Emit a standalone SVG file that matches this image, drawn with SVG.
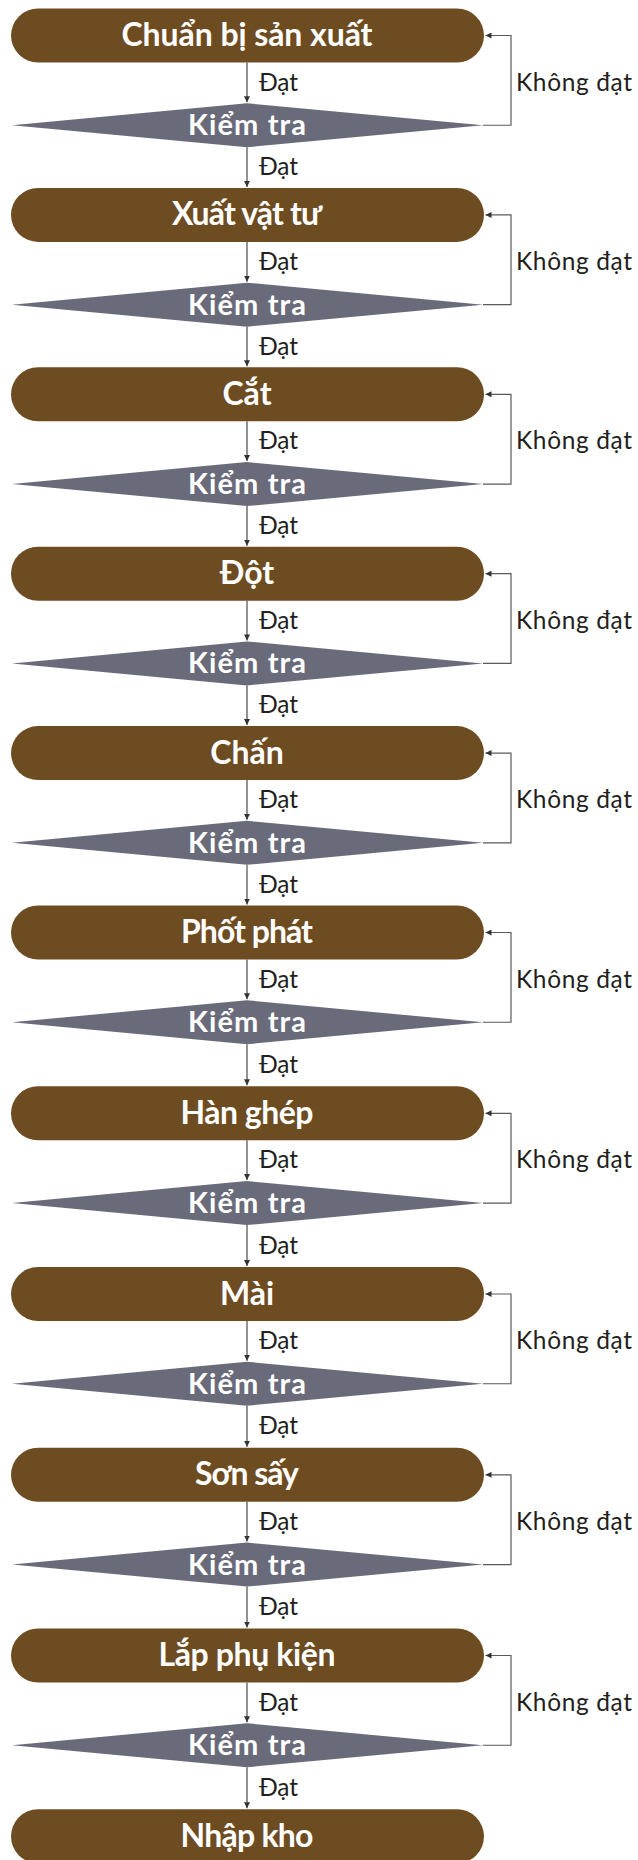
<svg xmlns="http://www.w3.org/2000/svg" width="638" height="1860" viewBox="0 0 638 1860">
<style>
.pill{fill:#6e4c22}
.dia{fill:#696b7b}
.nt{font-family:Lato,"Open Sans","Liberation Sans",sans-serif;font-weight:bold;font-size:32px;fill:#fff;text-anchor:middle}
.dt{font-family:Lato,"Open Sans","Liberation Sans",sans-serif;font-weight:bold;font-size:29px;fill:#fff;text-anchor:middle}
.lb{font-family:Lato,"Open Sans","Liberation Sans",sans-serif;font-size:24.5px;fill:#231f20}
.ln{fill:none;stroke:#4a4a4a;stroke-width:1.2}
.lp{fill:none;stroke:#5a5a5a;stroke-width:1.2}
</style>
<defs>
<marker id="ah" markerUnits="userSpaceOnUse" markerWidth="7" markerHeight="6" refX="6" refY="3" orient="auto">
<path d="M0,0 L6,3 L0,6 z" fill="#333"/>
</marker>
</defs>
<g id="connectors">
<path class="ln" d="M247,62.5 V102.25" marker-end="url(#ah)"/>
<path class="ln" d="M247,147.25 V186.9" marker-end="url(#ah)"/>
<path class="lp" d="M483,125.25 H511 V35.5 H485.5" marker-end="url(#ah)"/>
<path class="ln" d="M247,241.9 V281.65" marker-end="url(#ah)"/>
<path class="ln" d="M247,326.65 V366.3" marker-end="url(#ah)"/>
<path class="lp" d="M483,304.65 H511 V214.9 H485.5" marker-end="url(#ah)"/>
<path class="ln" d="M247,421.3 V461.05" marker-end="url(#ah)"/>
<path class="ln" d="M247,506.05 V545.7" marker-end="url(#ah)"/>
<path class="lp" d="M483,484.05 H511 V394.3 H485.5" marker-end="url(#ah)"/>
<path class="ln" d="M247,600.7 V640.45" marker-end="url(#ah)"/>
<path class="ln" d="M247,685.45 V725.1" marker-end="url(#ah)"/>
<path class="lp" d="M483,663.45 H511 V573.7 H485.5" marker-end="url(#ah)"/>
<path class="ln" d="M247,780.1 V819.85" marker-end="url(#ah)"/>
<path class="ln" d="M247,864.85 V904.5" marker-end="url(#ah)"/>
<path class="lp" d="M483,842.85 H511 V753.1 H485.5" marker-end="url(#ah)"/>
<path class="ln" d="M247,959.5 V999.25" marker-end="url(#ah)"/>
<path class="ln" d="M247,1044.25 V1085.3" marker-end="url(#ah)"/>
<path class="lp" d="M483,1022.25 H511 V932.5 H485.5" marker-end="url(#ah)"/>
<path class="ln" d="M247,1140.3 V1180.05" marker-end="url(#ah)"/>
<path class="ln" d="M247,1225.05 V1266" marker-end="url(#ah)"/>
<path class="lp" d="M483,1203.05 H511 V1113.3 H485.5" marker-end="url(#ah)"/>
<path class="ln" d="M247,1321 V1360.75" marker-end="url(#ah)"/>
<path class="ln" d="M247,1405.75 V1446.8" marker-end="url(#ah)"/>
<path class="lp" d="M483,1383.75 H511 V1294 H485.5" marker-end="url(#ah)"/>
<path class="ln" d="M247,1501.8 V1541.55" marker-end="url(#ah)"/>
<path class="ln" d="M247,1586.55 V1627.5" marker-end="url(#ah)"/>
<path class="lp" d="M483,1564.55 H511 V1474.8 H485.5" marker-end="url(#ah)"/>
<path class="ln" d="M247,1682.5 V1722.25" marker-end="url(#ah)"/>
<path class="ln" d="M247,1767.25 V1808.3" marker-end="url(#ah)"/>
<path class="lp" d="M483,1745.25 H511 V1655.5 H485.5" marker-end="url(#ah)"/>
<g id="connector-labels">
<text class="lb" x="259" y="90.5" textLength="39">Đạt</text><text class="lb" x="259" y="175.1" textLength="39">Đạt</text><text class="lb" x="516" y="90.5" textLength="116">Không đạt</text>
<text class="lb" x="259" y="269.9" textLength="39">Đạt</text><text class="lb" x="259" y="354.5" textLength="39">Đạt</text><text class="lb" x="516" y="269.9" textLength="116">Không đạt</text>
<text class="lb" x="259" y="449.3" textLength="39">Đạt</text><text class="lb" x="259" y="533.9" textLength="39">Đạt</text><text class="lb" x="516" y="449.3" textLength="116">Không đạt</text>
<text class="lb" x="259" y="628.7" textLength="39">Đạt</text><text class="lb" x="259" y="713.3" textLength="39">Đạt</text><text class="lb" x="516" y="628.7" textLength="116">Không đạt</text>
<text class="lb" x="259" y="808.1" textLength="39">Đạt</text><text class="lb" x="259" y="892.7" textLength="39">Đạt</text><text class="lb" x="516" y="808.1" textLength="116">Không đạt</text>
<text class="lb" x="259" y="987.5" textLength="39">Đạt</text><text class="lb" x="259" y="1072.8" textLength="39">Đạt</text><text class="lb" x="516" y="987.5" textLength="116">Không đạt</text>
<text class="lb" x="259" y="1168.3" textLength="39">Đạt</text><text class="lb" x="259" y="1253.5" textLength="39">Đạt</text><text class="lb" x="516" y="1168.3" textLength="116">Không đạt</text>
<text class="lb" x="259" y="1349" textLength="39">Đạt</text><text class="lb" x="259" y="1434.3" textLength="39">Đạt</text><text class="lb" x="516" y="1349" textLength="116">Không đạt</text>
<text class="lb" x="259" y="1529.8" textLength="39">Đạt</text><text class="lb" x="259" y="1615" textLength="39">Đạt</text><text class="lb" x="516" y="1529.8" textLength="116">Không đạt</text>
<text class="lb" x="259" y="1710.5" textLength="39">Đạt</text><text class="lb" x="259" y="1795.8" textLength="39">Đạt</text><text class="lb" x="516" y="1710.5" textLength="116">Không đạt</text>
</g>
</g>
<g id="n1"><rect class="pill" x="11" y="8.5" width="473" height="54" rx="27"/><text class="nt" x="247" y="46" textLength="251">Chuẩn bị sản xuất</text></g>
<g id="d1"><polygon class="dia" points="12,125.25 247,103.25 483,125.25 247,147.25"/><text class="dt" x="247" y="135.25" textLength="118">Kiểm tra</text></g>
<g id="n2"><rect class="pill" x="11" y="187.9" width="473" height="54" rx="27"/><text class="nt" x="247" y="225.4" textLength="150">Xuất vật tư</text></g>
<g id="d2"><polygon class="dia" points="12,304.65 247,282.65 483,304.65 247,326.65"/><text class="dt" x="247" y="314.65" textLength="118">Kiểm tra</text></g>
<g id="n3"><rect class="pill" x="11" y="367.3" width="473" height="54" rx="27"/><text class="nt" x="247" y="404.8">Cắt</text></g>
<g id="d3"><polygon class="dia" points="12,484.05 247,462.05 483,484.05 247,506.05"/><text class="dt" x="247" y="494.05" textLength="118">Kiểm tra</text></g>
<g id="n4"><rect class="pill" x="11" y="546.7" width="473" height="54" rx="27"/><text class="nt" x="247" y="584.2">Đột</text></g>
<g id="d4"><polygon class="dia" points="12,663.45 247,641.45 483,663.45 247,685.45"/><text class="dt" x="247" y="673.45" textLength="118">Kiểm tra</text></g>
<g id="n5"><rect class="pill" x="11" y="726.1" width="473" height="54" rx="27"/><text class="nt" x="247" y="763.6">Chấn</text></g>
<g id="d5"><polygon class="dia" points="12,842.85 247,820.85 483,842.85 247,864.85"/><text class="dt" x="247" y="852.85" textLength="118">Kiểm tra</text></g>
<g id="n6"><rect class="pill" x="11" y="905.5" width="473" height="54" rx="27"/><text class="nt" x="247" y="943" textLength="132">Phốt phát</text></g>
<g id="d6"><polygon class="dia" points="12,1022.25 247,1000.25 483,1022.25 247,1044.25"/><text class="dt" x="247" y="1032.25" textLength="118">Kiểm tra</text></g>
<g id="n7"><rect class="pill" x="11" y="1086.3" width="473" height="54" rx="27"/><text class="nt" x="247" y="1123.8" textLength="133">Hàn ghép</text></g>
<g id="d7"><polygon class="dia" points="12,1203.05 247,1181.05 483,1203.05 247,1225.05"/><text class="dt" x="247" y="1213.05" textLength="118">Kiểm tra</text></g>
<g id="n8"><rect class="pill" x="11" y="1267" width="473" height="54" rx="27"/><text class="nt" x="247" y="1304.5">Mài</text></g>
<g id="d8"><polygon class="dia" points="12,1383.75 247,1361.75 483,1383.75 247,1405.75"/><text class="dt" x="247" y="1393.75" textLength="118">Kiểm tra</text></g>
<g id="n9"><rect class="pill" x="11" y="1447.8" width="473" height="54" rx="27"/><text class="nt" x="247" y="1485.3" textLength="104">Sơn sấy</text></g>
<g id="d9"><polygon class="dia" points="12,1564.55 247,1542.55 483,1564.55 247,1586.55"/><text class="dt" x="247" y="1574.55" textLength="118">Kiểm tra</text></g>
<g id="n10"><rect class="pill" x="11" y="1628.5" width="473" height="54" rx="27"/><text class="nt" x="247" y="1666" textLength="177">Lắp phụ kiện</text></g>
<g id="d10"><polygon class="dia" points="12,1745.25 247,1723.25 483,1745.25 247,1767.25"/><text class="dt" x="247" y="1755.25" textLength="118">Kiểm tra</text></g>
<g id="n11"><rect class="pill" x="11" y="1809.3" width="473" height="54" rx="27"/><text class="nt" x="247" y="1846.8" textLength="133">Nhập kho</text></g>
</svg>
